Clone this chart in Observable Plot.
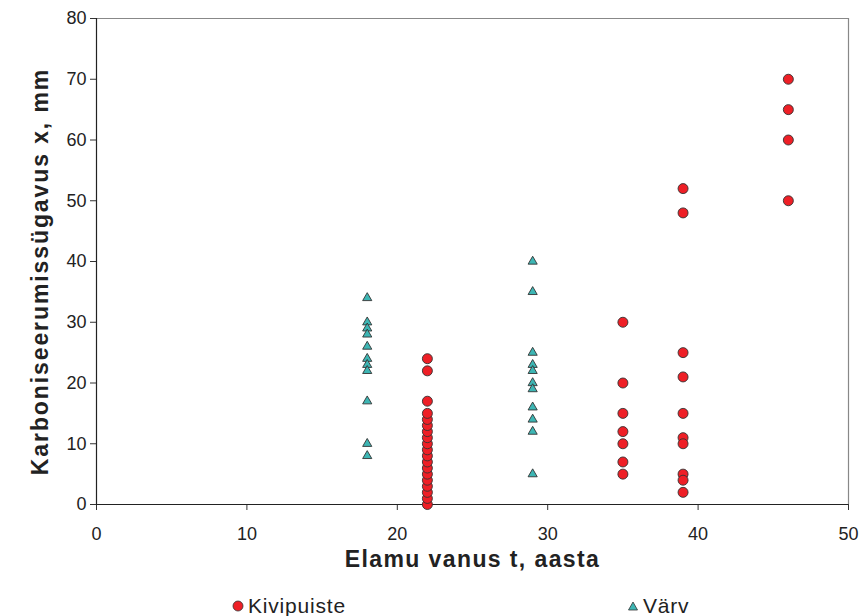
<!DOCTYPE html>
<html>
<head>
<meta charset="utf-8">
<script src="https://cdn.jsdelivr.net/npm/d3@7"></script>
<script src="https://cdn.jsdelivr.net/npm/@observablehq/plot@0.6"></script>
<style>
  html, body { margin: 0; padding: 0; background: #fff; }
  #wrap { position: relative; width: 861px; height: 616px; font-family: "Liberation Sans", Arial, sans-serif; }
  #chart svg { display: block; }
  .legend { position: absolute; top: 594px; height: 24px; line-height: 24px; font-size: 21px; letter-spacing: 0.8px; color: #222; display: flex; align-items: center; }
  .legend svg { margin-right: 4px; }
</style>
</head>
<body>
<div id="wrap">
  <div id="chart"></div>
  <div class="legend" style="left:232px">
    <svg width="12" height="12"><circle cx="6" cy="6" r="5" fill="#ee1f26" stroke="#333" stroke-width="0.8"/></svg>Kivipuiste
  </div>
  <div class="legend" style="left:627px">
    <svg width="12" height="12"><path d="M6,2 L10.5,10 L1.5,10 Z" fill="#3db6b4" stroke="#333" stroke-width="0.8"/></svg>Värv
  </div>
</div>
<script>
// Building age (years) and carbonation depth (mm), per finish type
const kivipuisteAge = [
  22, 22, 22, 22, 22, 22, 22, 22, 22, 22, 22, 22, 22, 22, 22, 22, 22, 22, 22,
  35, 35, 35, 35, 35, 35, 35,
  39, 39, 39, 39, 39, 39, 39, 39, 39, 39,
  46, 46, 46, 46
];
const kivipuisteDepth = [
  0, 1, 2, 3, 4, 5, 6, 7, 8, 9, 10, 11, 12, 13, 14, 15, 17, 22, 24,
  30, 20, 15, 12, 10, 7, 5,
  52, 48, 25, 21, 15, 11, 10, 5, 4, 2,
  70, 65, 60, 50
];
const varvAge = [
  18, 18, 18, 18, 18, 18, 18, 18, 18, 18, 18,
  29, 29, 29, 29, 29, 29, 29, 29, 29, 29, 29
];
const varvDepth = [
  34, 30, 29, 28, 26, 24, 23, 22, 17, 10, 8,
  40, 35, 25, 23, 22, 20, 19, 16, 14, 12, 5
];
const xTicks = [0, 10, 20, 30, 40, 50];
const yTicks = [0, 10, 20, 30, 40, 50, 60, 70, 80];
const xTitle = "Elamu vanus t, aasta";
const yTitle = "Karboniseerumissügavus x, mm";

const kivipuiste = kivipuisteAge.map((t, i) => ({t, x: kivipuisteDepth[i]}));
const varv = varvAge.map((t, i) => ({t, x: varvDepth[i]}));

const chart = Plot.plot({
  width: 861,
  height: 580,
  marginLeft: 96,
  marginRight: 13,
  marginTop: 18,
  marginBottom: 76,
  style: {fontFamily: "Liberation Sans, Arial, sans-serif", color: "#222", background: "#fff"},
  x: {domain: [0, 50]},
  y: {domain: [0, 80]},
  marks: [
    Plot.ruleY([80], {stroke: "#888", strokeWidth: 1.2}),
    Plot.ruleX([50], {stroke: "#888", strokeWidth: 1.2}),
    Plot.axisX({ticks: xTicks, tickSize: 6, tickPadding: 17, fontSize: 18, label: null, stroke: "#333"}),
    Plot.axisY({ticks: yTicks, tickSize: 6, tickPadding: 4, fontSize: 18, label: null, stroke: "#333"}),
    Plot.ruleY([0], {stroke: "#222", strokeWidth: 1.2}),
    Plot.ruleX([0], {stroke: "#222", strokeWidth: 1.2}),
    Plot.dot(kivipuiste, {x: "t", y: "x", r: 5, fill: "#ee1f26", stroke: "#333", strokeWidth: 0.9}),
    Plot.dot(varv, {x: "t", y: "x", symbol: "triangle", r: 3.4, fill: "#3db6b4", stroke: "#333", strokeWidth: 0.9}),
    Plot.text([xTitle], {frameAnchor: "bottom", dy: 62, fontSize: 23, fontWeight: "bold", fill: "#222"}),
    Plot.text([yTitle], {frameAnchor: "left", textAnchor: "middle", dx: -56, dy: 10, rotate: -90, fontSize: 23, fontWeight: "bold", fill: "#222"})
  ]
});

// The axis titles are set slightly wider than the default letter spacing
d3.select(chart).selectAll("text")
  .filter(function () { return this.textContent === xTitle; })
  .attr("letter-spacing", "1.4px");
d3.select(chart).selectAll("text")
  .filter(function () { return this.textContent === yTitle; })
  .attr("letter-spacing", "1.9px");

document.getElementById("chart").append(chart);
</script>
</body>
</html>
